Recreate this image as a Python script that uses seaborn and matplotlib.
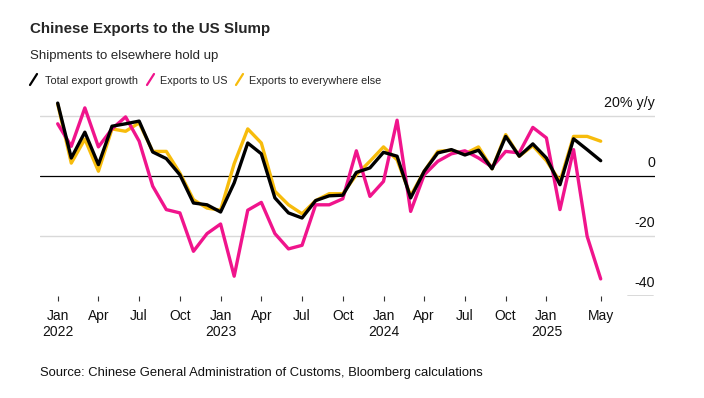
import numpy as np
import pandas as pd
import matplotlib
matplotlib.use("Agg")
import matplotlib.pyplot as plt
from matplotlib import font_manager
from matplotlib.lines import Line2D
import seaborn as sns

# monthly y/y growth, Jan 2022 .. May 2025
total = [24.3, 6.0, 14.6, 3.8, 16.6, 17.4, 18.3, 8.0, 5.8, 0.4,
         -9.0, -9.6, -12.0, -2.3, 11.0, 7.4, -7.3, -12.3, -14.0, -8.2,
         -6.6, -6.4, 1.2, 2.7, 7.9, 6.6, -7.3, 1.6, 7.7, 8.8,
         7.0, 8.6, 2.4, 13.2, 6.6, 10.7, 6.0, -2.9, 12.4, 8.8, 5.1]
to_us = [17.4, 9.9, 22.7, 9.7, 15.7, 19.7, 11.6, -3.4, -11.2, -12.3,
         -25.1, -19.2, -16.0, -33.4, -11.4, -8.8, -19.2, -24.3, -23.1, -9.6,
         -9.6, -7.6, 8.4, -6.8, -1.8, 18.6, -11.8, 0.4, 4.9, 7.4,
         8.4, 6.0, 3.0, 8.2, 7.7, 16.2, 12.7, -11.2, 8.8, -20.1, -34.3]
elsewhere = [24.0, 4.3, 12.3, 1.6, 15.7, 14.9, 17.7, 8.2, 8.2, 1.0,
             -7.9, -10.7, -11.4, 4.1, 15.7, 11.0, -5.1, -9.6, -12.6, -8.2,
             -5.9, -5.9, 0.4, 4.9, 9.7, 5.4, -6.6, 1.6, 8.2, 8.6,
             7.4, 9.7, 2.4, 13.8, 6.6, 10.1, 5.1, -1.8, 13.2, 13.2, 11.6]

series_names = ["Total export growth", "Exports to US", "Exports to everywhere else"]
colors = {"Total export growth": "#000000",
          "Exports to US": "#f0148c",
          "Exports to everywhere else": "#f7bc0c"}

tick_pos = [0, 3, 6, 9, 12, 15, 18, 21, 24, 27, 30, 33, 36, 40]
tick_labels = ["Jan\n2022", "Apr", "Jul", "Oct", "Jan\n2023", "Apr", "Jul", "Oct",
               "Jan\n2024", "Apr", "Jul", "Oct", "Jan\n2025", "May"]
y_levels = [20, 0, -20, -40]
y_texts = ["20% y/y", "0", "-20", "-40"]

months = np.arange(len(total))
df = pd.DataFrame({"month": months, "Total export growth": total,
                   "Exports to US": to_us, "Exports to everywhere else": elsewhere})
long = df.melt(id_vars="month", var_name="series", value_name="growth")

sns.set_theme(style="white")

# narrow face for headline texts if it is there
try:
    font_manager.findfont("Liberation Sans Narrow", fallback_to_default=False)
    head = ["Liberation Sans Narrow", "Liberation Sans"]
    t_size, s_size, l_size = 13.2, 11.6, 9.5
except Exception:
    head = ["Liberation Sans"]
    t_size, s_size, l_size = 10.9, 9.5, 7.8
plt.rcParams["font.family"] = ["Liberation Sans", "DejaVu Sans"]

W, H = 704, 398
fig = plt.figure(figsize=(W / 100, H / 100), dpi=100)
ax = fig.add_axes([40 / W, 1 - 296 / H, 615 / W, 206 / H])

sns.lineplot(data=long, x="month", y="growth", hue="series",
             hue_order=["Exports to everywhere else", "Exports to US", "Total export growth"],
             palette=colors, linewidth=2.4, legend=False, ax=ax, clip_on=False)

ax.set_xlim(-1.304, 44.0)
ax.set_ylim(-40, 28.667)
for s in ax.spines.values():
    s.set_visible(False)

ax.axhline(20, color="#d9d9d9", lw=1, zorder=0)
ax.axhline(-20, color="#d9d9d9", lw=1, zorder=0)
ax.axhline(0, color="#000000", lw=0.9, zorder=1)
ax.axhline(-40, xmin=(627 - 40) / 615, xmax=(653 - 40) / 615, color="#444444", lw=1)

ax.set_xticks(tick_pos)
ax.set_xticklabels(tick_labels, fontsize=10, linespacing=1.22)
ax.tick_params(axis="x", bottom=True, length=3.4, width=0.8, color="#333333",
               pad=6, labelcolor="#111111")
ax.set_yticks([])
ax.set_xlabel("")
ax.set_ylabel("")

for v, t in zip(y_levels, y_texts):
    ax.text(1.0, v + 2.9, t, transform=ax.get_yaxis_transform(), ha="right",
            va="baseline", fontsize=10.3, color="#111111")

fig.text(30 / W, 1 - 33 / H, "Chinese Exports to the US Slump", fontsize=t_size,
         fontweight="bold", family=head, va="baseline")
fig.text(30 / W, 1 - 59 / H, "Shipments to elsewhere hold up", fontsize=s_size,
         family=head, va="baseline")

leg_x = [(30, 45), (147, 160), (236, 249)]
for name, (sx, tx) in zip(series_names, leg_x):
    fig.add_artist(Line2D([sx / W, (sx + 7) / W], [1 - 85 / H, 1 - 74 / H],
                          transform=fig.transFigure, color=colors[name], lw=1.6))
    fig.text(tx / W, 1 - 84 / H, name, fontsize=l_size, family=head, va="baseline")

fig.text(40 / W, 1 - 376 / H,
         "Source: Chinese General Administration of Customs, Bloomberg calculations",
         fontsize=9.4, va="baseline", color="#111111")

fig.savefig("out.png", dpi=100, facecolor="white")
